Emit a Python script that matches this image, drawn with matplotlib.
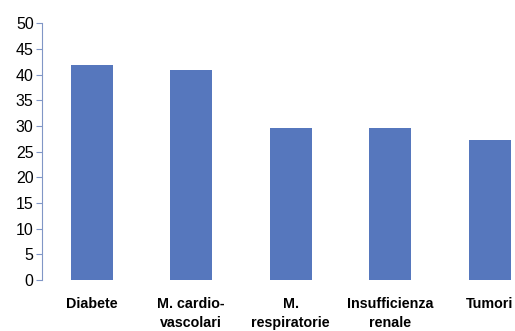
import numpy as np
import matplotlib.pyplot as plt

plt.rcParams['font.family'] = ['Liberation Sans', 'DejaVu Sans']

categorie = ["Diabete", "M. cardio-\nvascolari", "M.\nrespiratorie",
             "Insufficienza\nrenale", "Tumori"]
valori = [41.9, 40.9, 29.6, 29.6, 27.3]

fig = plt.figure(figsize=(5.15, 3.31), dpi=100)
ax = fig.add_axes([0.0816, 0.154, 0.966, 0.776])

x = np.arange(len(categorie))
ax.bar(x, valori, width=0.42, color="#5677BD")

ax.set_xlim(-0.5, 4.5)
ax.set_ylim(0, 50)
ax.set_yticks(np.arange(0, 51, 5))
ax.set_xticks(x)
ax.set_xticklabels(categorie, fontweight="bold", fontsize=10.3, linespacing=1.45)

for s in ["top", "right", "bottom"]:
    ax.spines[s].set_visible(False)
ax.spines["left"].set_color("#8096C6")
ax.tick_params(axis="y", colors="#8096C6", labelcolor="black", length=4,
               labelsize=11.5, pad=2)
ax.tick_params(axis="x", length=0, pad=12)

fig.savefig("out.png", dpi=100)
